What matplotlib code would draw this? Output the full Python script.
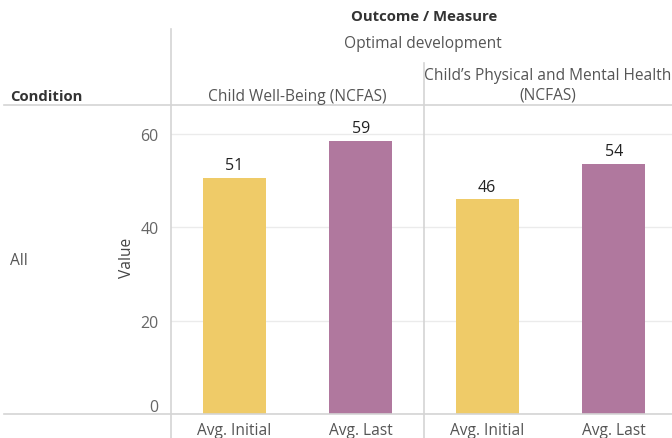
import matplotlib
matplotlib.use("Agg")
import matplotlib.pyplot as plt
from matplotlib.lines import Line2D
from matplotlib.transforms import ScaledTranslation

plt.rcParams['font.family'] = ['Open Sans', 'DejaVu Sans']

# Data
measures = ["Child Well-Being (NCFAS)", "Child\u2019s Physical and Mental Health\n(NCFAS)"]
categories = ["Avg. Initial", "Avg. Last"]
well_being = [50.6, 58.6]
physical_mental = [46.0, 53.7]
series = [well_being, physical_mental]
colors = ["#EFCB68", "#B0789E"]
yticks = [0, 20, 40, 60]

W, H = 672, 439
fig = plt.figure(figsize=(W / 100, H / 100), dpi=100)
fig.patch.set_facecolor("white")

def fx(px):
    return px / W

def fy(py):
    return 1 - py / H

top_px, base_px = 106, 414.7
unit_px = (414.7 - 135.3) / 60.0
ymax = (base_px - top_px) / unit_px
cat_px = 126.5

panels = [(171, 253), (424, 248)]
axes = []
for i, ((left, width), vals) in enumerate(zip(panels, series)):
    ax = fig.add_axes([fx(left), fy(base_px), fx(width), (base_px - top_px) / H])
    x = list(range(len(categories)))
    bars = ax.bar(x, vals, width=0.5, color=colors, zorder=2)
    for b, v in zip(bars, vals):
        ax.text(b.get_x() + b.get_width() / 2, v + 1.0, f"{v:.0f}",
                ha="center", va="bottom", fontsize=11.5, color="#222222")
    ax.set_xlim(-0.5, -0.5 + width / cat_px)
    ax.set_ylim(0, ymax)
    ax.set_yticks(yticks)
    ax.grid(axis="y", color="#EBEBEB", linewidth=1, zorder=0)
    ax.set_xticks(x)
    ax.set_xticklabels(categories, fontsize=11.2, color="#555555")
    ax.tick_params(axis="x", length=0, pad=6)
    ax.tick_params(axis="y", length=0)
    for s in ax.spines.values():
        s.set_visible(False)
    if i == 0:
        ax.tick_params(axis="y", labelsize=11.5, labelcolor="#666666", pad=9)
        # lift the zero label off the baseline rule
        zero_lbl = ax.get_yticklabels()[0]
        zero_lbl.set_transform(zero_lbl.get_transform()
                               + ScaledTranslation(0, 9 / 100, fig.dpi_scale_trans))
    else:
        ax.tick_params(axis="y", labelleft=False)
    axes.append(ax)

# Structural rules
line_kw = dict(transform=fig.transFigure, color="#D4D4D4", linewidth=1.2)
fig.add_artist(Line2D([fx(4), 1], [fy(base_px), fy(base_px)], **line_kw))
fig.add_artist(Line2D([fx(4), 1], [fy(106), fy(106)], **line_kw))
fig.add_artist(Line2D([fx(171), fx(171)], [fy(30), 0], **line_kw))
fig.add_artist(Line2D([fx(424), fx(424)], [fy(64), 0], **line_kw))

# Header texts
fig.text(fx(424.5), fy(17), "Outcome / Measure", ha="center", va="center",
         fontsize=10.7, fontweight="bold", color="#333333")
fig.text(fx(423), fy(44), "Optimal development", ha="center", va="center",
         fontsize=11.2, color="#555555")
fig.text(fx(297.5), fy(97), measures[0], ha="center", va="center",
         fontsize=11.2, color="#555555")
fig.text(fx(548), fy(86), measures[1], ha="center", va="center",
         fontsize=11.2, color="#555555", linespacing=1.3)
fig.text(fx(10), fy(97), "Condition", ha="left", va="center",
         fontsize=10.7, fontweight="bold", color="#333333")
fig.text(fx(10), fy(261), "All", ha="left", va="center",
         fontsize=11.2, color="#555555")
fig.text(fx(127), fy(258), "Value", ha="center", va="center", rotation=90,
         fontsize=11.2, color="#444444")

fig.savefig("out.png", dpi=100, facecolor="white")
